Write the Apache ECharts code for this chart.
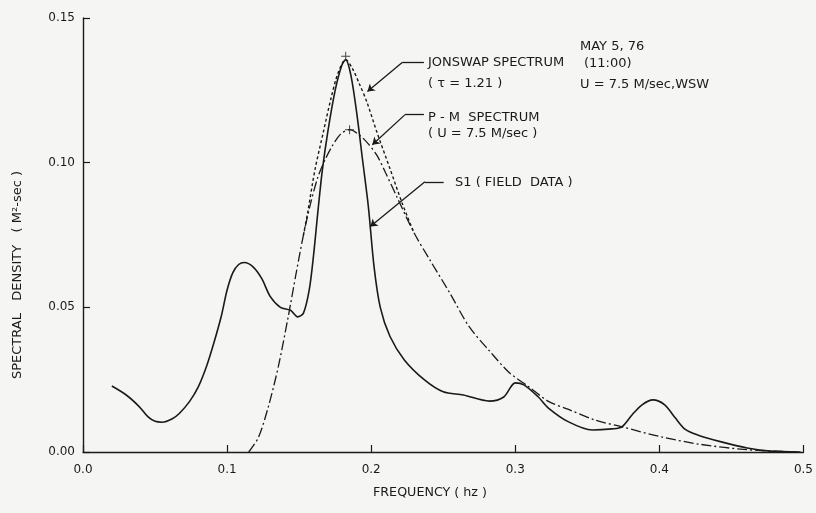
<!DOCTYPE html>
<html>
<head>
<meta charset="utf-8">
<script src="https://cdn.jsdelivr.net/npm/echarts@6/dist/echarts.min.js"></script>
<style>
  html, body { margin: 0; padding: 0; background: #f5f5f3; }
  #spec { width: 816px; height: 513px; }
</style>
</head>
<body>
<div id="spec"></div>
<script>
var chart = echarts.init(document.getElementById('spec'));
let ink = '#1a1a1a';
let fontName = 'DejaVu Sans';

// [frequency (hz), spectral density (m^2 sec)]
let fieldData = [
    [0.020, 0.0228], [0.030, 0.0197], [0.039, 0.0157], [0.045, 0.0122],
    [0.050, 0.0106], [0.055, 0.0103], [0.062, 0.0115], [0.067, 0.0134],
    [0.074, 0.0175], [0.080, 0.0225], [0.086, 0.0300], [0.091, 0.0380],
    [0.096, 0.0470], [0.100, 0.0560], [0.104, 0.0620], [0.108, 0.0648],
    [0.112, 0.0655], [0.118, 0.0640], [0.124, 0.0600], [0.130, 0.0537],
    [0.137, 0.0500], [0.144, 0.0490], [0.149, 0.0467], [0.153, 0.0480],
    [0.157, 0.0560], [0.160, 0.0680], [0.163, 0.0830], [0.166, 0.0970],
    [0.170, 0.1110], [0.175, 0.1250], [0.1795, 0.1335], [0.1823, 0.1356],
    [0.186, 0.1300], [0.190, 0.1170], [0.194, 0.1010], [0.198, 0.0850],
    [0.202, 0.0640], [0.2063, 0.0500], [0.213, 0.0400], [0.223, 0.0318],
    [0.237, 0.0249], [0.250, 0.0208], [0.264, 0.0197], [0.282, 0.0176],
    [0.292, 0.0190], [0.300, 0.0239], [0.306, 0.0232], [0.316, 0.0190],
    [0.323, 0.0152], [0.337, 0.0104], [0.3535, 0.0076], [0.367, 0.0080],
    [0.374, 0.0087], [0.381, 0.0128], [0.388, 0.0163], [0.3955, 0.0180],
    [0.4037, 0.0163], [0.411, 0.0118], [0.418, 0.0078], [0.427, 0.0058],
    [0.443, 0.0035], [0.461, 0.0014], [0.477, 0.0003], [0.498, 0.0]
];
let pmData = [
    [0.115, 0.0], [0.1217, 0.0050], [0.1286, 0.0156], [0.1355, 0.0294],
    [0.1424, 0.0467], [0.148, 0.0620], [0.153, 0.0750], [0.158, 0.0860],
    [0.163, 0.0950], [0.168, 0.1010], [0.173, 0.1058], [0.179, 0.1100],
    [0.185, 0.1114], [0.192, 0.1095], [0.198, 0.1065], [0.204, 0.1025],
    [0.210, 0.0965], [0.218, 0.0880], [0.2297, 0.0758], [0.2407, 0.0664],
    [0.2545, 0.0550], [0.268, 0.0433], [0.282, 0.0350], [0.2957, 0.0275],
    [0.3095, 0.0225], [0.323, 0.0175], [0.337, 0.0147], [0.3556, 0.0110],
    [0.374, 0.0087], [0.4016, 0.0052], [0.429, 0.0026], [0.461, 0.0008],
    [0.495, 0.0]
];
let jonswapData = [
    [0.153, 0.0750], [0.156, 0.0830], [0.161, 0.0976], [0.167, 0.1110],
    [0.172, 0.1220], [0.177, 0.1310], [0.1823, 0.1356], [0.187, 0.1325],
    [0.192, 0.1270], [0.197, 0.1210], [0.204, 0.1105], [0.213, 0.0980],
    [0.2215, 0.0860], [0.2297, 0.0758]
];
let peakMarks = [[0.1823, 0.1368], [0.185, 0.1114]];
let xTicks = [0.0, 0.1, 0.2, 0.3, 0.4, 0.5];
let yTicks = [0.00, 0.05, 0.10, 0.15];

// leader lines: [text end, bend, arrow tip]
let leaders = [
    [[0.2366, 0.1346], [0.2215, 0.1346], [0.1974, 0.1246]],
    [[0.2366, 0.1166], [0.2235, 0.1166], [0.2008, 0.1062]],
    [[0.2503, 0.0934], [0.2373, 0.0934], [0.1994, 0.0779]]
];

let leaderLines = [];
leaders.forEach(function (l) {
    leaderLines.push([{ coord: l[0], symbol: 'none' }, { coord: l[1], symbol: 'none' }]);
    leaderLines.push([{ coord: l[1], symbol: 'none' }, { coord: l[2], symbol: 'arrow' }]);
});

let txt = function (x, y, s, size, align, rot) {
    return {
        type: 'text', x: x, y: y, silent: true, rotation: rot || 0,
        style: {
            text: s, fill: ink, font: (size || 13) + 'px "' + fontName + '"',
            textAlign: align || 'left', textVerticalAlign: 'middle'
        }
    };
};

option = {
    backgroundColor: '#f5f5f3',
    animation: false,
    grid: { left: 83, right: 6, top: 18, bottom: 61 },
    xAxis: {
        type: 'value',
        min: xTicks[0],
        max: xTicks[xTicks.length - 1],
        interval: 0.1,
        axisLine: { lineStyle: { color: ink, width: 1.4 } },
        axisTick: { inside: true, length: 7, lineStyle: { color: ink, width: 1.2 } },
        axisLabel: {
            color: ink, fontFamily: fontName, fontSize: 12, margin: 12,
            formatter: v => v.toFixed(1)
        },
        splitLine: { show: false }
    },
    yAxis: {
        type: 'value',
        min: yTicks[0],
        max: yTicks[yTicks.length - 1],
        interval: 0.05,
        axisLine: { show: true, lineStyle: { color: ink, width: 1.4 } },
        axisTick: { show: true, inside: true, length: 7, lineStyle: { color: ink, width: 1.2 } },
        axisLabel: {
            color: ink, fontFamily: fontName, fontSize: 12, margin: 8,
            formatter: v => v.toFixed(2)
        },
        splitLine: { show: false }
    },
    graphic: [
        txt(18, 275, 'SPECTRAL   DENSITY   ( M²-sec )', 13, 'center', Math.PI / 2),
        txt(430, 493, 'FREQUENCY ( hz )', 12.7, 'center'),
        txt(428, 63, 'JONSWAP SPECTRUM'),
        txt(428, 84, '( τ = 1.21 )'),
        txt(428, 118, 'P - M  SPECTRUM'),
        txt(428, 134, '( U = 7.5 M/sec )'),
        txt(455, 183, 'S1 ( FIELD  DATA )'),
        txt(580, 47, 'MAY 5, 76'),
        txt(584, 64, '(11:00)'),
        txt(580, 85, 'U = 7.5 M/sec,WSW')
    ],
    series: [{
        name: 'S1 (FIELD DATA)',
        type: 'line',
        data: fieldData,
        smooth: 0.3,
        symbol: 'none',
        lineStyle: { color: ink, width: 1.6 },
        markLine: {
            silent: true,
            symbolSize: 7,
            label: { show: false },
            lineStyle: { color: ink, width: 1.3, type: 'solid' },
            data: leaderLines
        }
    }, {
        name: 'P-M SPECTRUM',
        type: 'line',
        data: pmData,
        smooth: 0.3,
        symbol: 'none',
        lineStyle: { color: ink, width: 1.3, type: [10, 3, 2, 3] }
    }, {
        name: 'JONSWAP SPECTRUM',
        type: 'line',
        data: jonswapData,
        smooth: 0.3,
        symbol: 'none',
        lineStyle: { color: ink, width: 1.4, type: [3, 2.5] }
    }, {
        name: 'peaks',
        type: 'scatter',
        data: peakMarks,
        symbol: 'path://M4,0h1v9h-1zM0,4h9v1h-9z',
        symbolSize: 9,
        itemStyle: { color: ink }
    }]
};
chart.setOption(option);
</script>
</body>
</html>
